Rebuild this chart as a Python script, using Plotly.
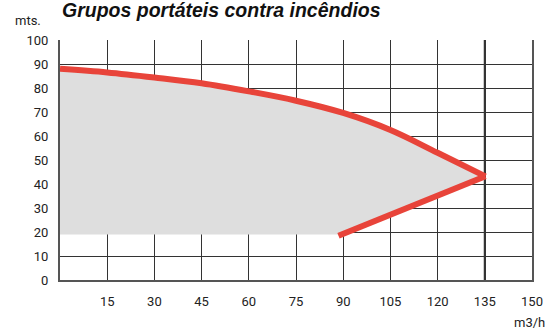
import plotly.graph_objects as go

# Upper curve (flow m3/h, head mts.)
curve_q = [0, 15, 30, 45, 60, 75, 90, 105, 120, 135.2]
curve_h = [88, 86.5, 84.4, 82, 78.6, 74.7, 69.6, 62.5, 53, 43.2]
# Lower limit line
lower_q = [135.2, 88.5]
lower_h = [43.2, 18.4]
# Shaded region bottom
shade_bottom_h = 19.0

x_ticks = [15, 30, 45, 60, 75, 90, 105, 120, 135, 150]
y_ticks = [0, 10, 20, 30, 40, 50, 60, 70, 80, 90, 100]

RED = "#e8443a"
GRID = "#333333"
FONT = "Roboto"

W, H = 559, 330
l, r, t, b = 60, 27, 40, 50

fig = go.Figure()

# gray shaded area
poly_x = curve_q + [lower_q[1], lower_q[1], 0]
poly_y = curve_h + [lower_h[1], shade_bottom_h, shade_bottom_h]
fig.add_trace(go.Scatter(x=poly_x, y=poly_y, fill="toself", fillcolor="#dedede",
                         mode="lines", line=dict(width=0),
                         hoverinfo="skip", showlegend=False))

# red curves
fig.add_trace(go.Scatter(x=curve_q, y=curve_h, mode="lines",
                         line=dict(color=RED, width=6, shape="spline", smoothing=1),
                         showlegend=False))
fig.add_trace(go.Scatter(x=lower_q, y=lower_h, mode="lines",
                         line=dict(color=RED, width=6), showlegend=False))

# thick line at 135
fig.add_shape(type="line", x0=135, x1=135, y0=0, y1=100, xref="x", yref="y",
              line=dict(color="#000000", width=2), layer="below")

annots = [
    dict(text="<b><i>Grupos portáteis contra incêndios</i></b>", px=60, py=10,
         font=dict(family="Liberation Sans", size=19.5, color="#111111")),
    dict(text="mts.", px=13, py=20, font=dict(family=FONT, size=13, color="#222222")),
    dict(text="m3/h", px=512, py=322, font=dict(family=FONT, size=13, color="#222222")),
]
pw, ph = W - l - r, H - t - b
annotations = []
for a in annots:
    annotations.append(dict(text=a["text"], x=(a["px"] - l) / pw, y=(H - b - a["py"]) / ph,
                            xref="paper", yref="paper", showarrow=False,
                            xanchor="left", yanchor="middle", font=a["font"]))

fig.update_layout(
    width=W, height=H,
    margin=dict(l=l, r=r, t=t, b=b),
    paper_bgcolor="white", plot_bgcolor="white",
    font=dict(family=FONT, size=13, color="#222222"),
    xaxis=dict(range=[0, 150], tickvals=x_ticks, showgrid=True, gridcolor=GRID, gridwidth=1,
               showline=True, linecolor="#555555", linewidth=2, zeroline=False,
               ticks="", ticklabelstandoff=8, layer="below traces"),
    yaxis=dict(range=[0, 100], tickvals=y_ticks, showgrid=True, gridcolor=GRID, gridwidth=1,
               showline=True, linecolor="#555555", linewidth=2, mirror=True, zeroline=False,
               ticks="", ticklabelstandoff=7, layer="below traces"),
    annotations=annotations,
)

fig.write_html("out.html", config={"displayModeBar": False},
               post_script="document.body.style.margin='0px';")
